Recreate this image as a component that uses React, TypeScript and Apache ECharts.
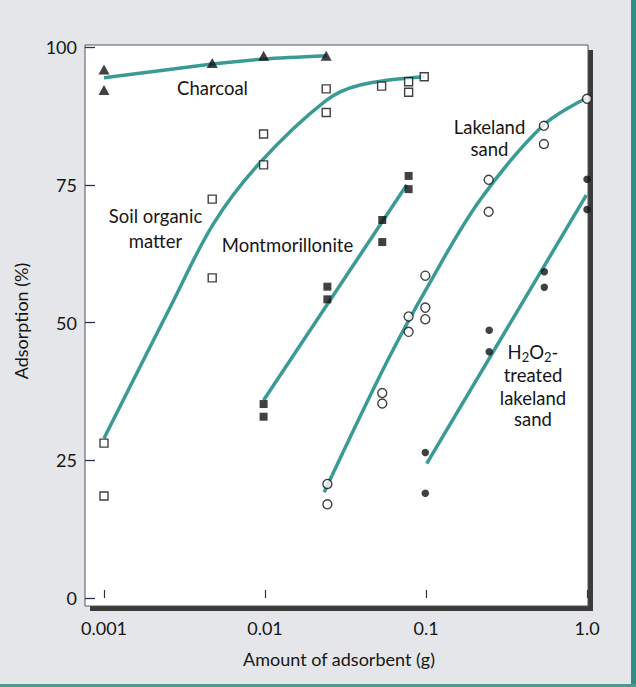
import React, { useEffect, useRef } from "react";
import * as echarts from "echarts";

// ---- tick labels ----
const xTickLabels = ["0.001", "0.01", "0.1", "1.0"];
const yTickLabels = ["0", "25", "50", "75", "100"];

// ---- measured points ----
const charcoalX = [0.001, 0.001, 0.0047, 0.0098, 0.024];
const charcoalY = [95.9, 92.2, 97.1, 98.4, 98.4];

const soilX = [0.001, 0.001, 0.0047, 0.0047, 0.0098, 0.0098, 0.024, 0.024, 0.053, 0.078, 0.078, 0.0975];
const soilY = [28.1, 18.5, 72.4, 58.1, 84.2, 78.6, 92.4, 88.1, 92.9, 93.7, 91.8, 94.6];

const montX = [0.0098, 0.0098, 0.0244, 0.0244, 0.0535, 0.0535, 0.078, 0.078];
const montY = [35.2, 32.9, 56.5, 54.2, 68.6, 64.6, 76.6, 74.2];

const lakeX = [0.0244, 0.0244, 0.0535, 0.0535, 0.078, 0.078, 0.099, 0.099, 0.099, 0.245, 0.245, 0.54, 0.54, 1.0];
const lakeY = [20.7, 17.0, 37.2, 35.3, 51.1, 48.3, 58.5, 52.7, 50.6, 75.9, 70.1, 85.7, 82.4, 90.6];

const h2o2X = [0.099, 0.099, 0.247, 0.247, 0.543, 0.543, 1.0, 1.0];
const h2o2Y = [26.4, 19.0, 48.6, 44.7, 59.2, 56.4, 76.0, 70.5];

// ---- fitted curves ----
const charcoalFitX = [0.001, 0.0047, 0.0098, 0.024];
const charcoalFitY = [94.4, 96.9, 97.8, 98.4];

const soilFitX = [0.001, 0.0026, 0.0048, 0.0093, 0.024, 0.039, 0.0975];
const soilFitY = [29.0, 53.0, 68.0, 79.0, 90.3, 93.1, 94.6];

const montFitX = [0.0098, 0.076];
const montFitY = [35.9, 75.0];

const lakeFitX = [0.0233, 0.057, 0.106, 0.216, 0.535, 0.99];
const lakeFitY = [19.2, 42.8, 57.3, 72.2, 85.8, 90.7];

const h2o2FitX = [0.101, 0.99];
const h2o2FitY = [24.4, 73.1];

const zip = (xs: number[], ys: number[]) => xs.map((x, i) => [x, ys[i]]);

const TEAL = "#3a9b94";
const INK = "#161616";
const FONT = "Lato";

export default function App() {
  const ref = useRef<HTMLDivElement>(null);

  useEffect(() => {
    if (!ref.current) return;
    const chart = echarts.init(ref.current, undefined, { renderer: "svg" });

    const fitLine = (name: string, xs: number[], ys: number[], smooth: number) => ({
      name,
      type: "line",
      data: zip(xs, ys),
      smooth,
      symbol: "none",
      lineStyle: { color: TEAL, width: 3.5 },
      z: 3,
    });

    const scatter = (name: string, xs: number[], ys: number[], symbol: string, size: any, filled: boolean) => ({
      name,
      type: "scatter",
      data: zip(xs, ys),
      symbol,
      symbolSize: size,
      itemStyle: filled
        ? { color: "#111" }
        : { color: "#ffffff", borderColor: "#111", borderWidth: 1.4 },
      z: 5,
    });

    const txt = (x: number, y: number, text: string, size = 18.5) => ({
      type: "text",
      x,
      y,
      z: 50,
      style: {
        text,
        fill: INK,
        fontSize: size,
        fontFamily: FONT,
        align: "center",
        verticalAlign: "middle",
      },
    });

    chart.setOption({
      animation: false,
      backgroundColor: "#e4e6e9",
      grid: { left: 104, right: 49, top: 47, bottom: 89 },
      xAxis: {
        type: "log",
        logBase: 10,
        min: 0.001,
        max: 1,
        offset: 8,
        axisLine: { show: false },
        axisTick: { show: true, inside: true, length: 8, lineStyle: { color: "#333", width: 1.2 } },
        splitLine: { show: false },
        axisLabel: {
          margin: 13,
          fontSize: 18,
          fontFamily: FONT,
          color: INK,
          formatter: (v: number) => xTickLabels[Math.round(Math.log10(v)) + 3] ?? "",
        },
      },
      yAxis: {
        type: "value",
        min: 0,
        max: 100,
        interval: 25,
        offset: 19,
        axisLine: { show: false },
        axisTick: { show: true, inside: true, length: 10, lineStyle: { color: "#2a2f5c", width: 1.3 } },
        splitLine: { show: false },
        axisLabel: {
          margin: 8,
          fontSize: 18,
          fontFamily: FONT,
          color: INK,
          formatter: (v: number) => yTickLabels[Math.round(v / 25)] ?? "",
        },
      },
      graphic: [
        { type: "rect", z: -20, shape: { x: 631, y: 0, width: 5, height: 687 }, style: { fill: "#2e8e88" } },
        { type: "rect", z: -20, shape: { x: 0, y: 684, width: 636, height: 3 }, style: { fill: "#4f9a8e" } },
        { type: "rect", z: -10, shape: { x: 90, y: 50, width: 503, height: 561 }, style: { fill: "#3a3a3a" } },
        {
          type: "rect",
          z: -9,
          shape: { x: 85, y: 45, width: 503, height: 561 },
          style: { fill: "#ffffff", stroke: "#555", lineWidth: 1 },
        },
        txt(212.5, 88, "Charcoal"),
        txt(155.5, 216, "Soil organic"),
        txt(155.5, 241, "matter"),
        txt(287.5, 245, "Montmorillonite"),
        txt(489.5, 127, "Lakeland"),
        txt(489.5, 149, "sand"),
        {
          type: "text",
          x: 533,
          y: 352,
          z: 50,
          style: {
            text: "H{sub|2}O{sub|2}-",
            fill: INK,
            fontSize: 18.5,
            fontFamily: FONT,
            align: "center",
            verticalAlign: "middle",
            lineHeight: 22,
            rich: {
              sub: { fontSize: 13, fontFamily: FONT, fill: INK, verticalAlign: "bottom", lineHeight: 14 },
            },
          },
        },
        txt(533, 374.5, "treated"),
        txt(533, 397.5, "lakeland"),
        txt(533, 419, "sand"),
        txt(339, 659, "Amount of adsorbent (g)", 18),
        {
          type: "text",
          x: 21,
          y: 321,
          rotation: Math.PI / 2,
          z: 50,
          style: {
            text: "Adsorption (%)",
            fill: INK,
            fontSize: 18,
            fontFamily: FONT,
            align: "center",
            verticalAlign: "middle",
          },
        },
      ],
      series: [
        fitLine("Charcoal fit", charcoalFitX, charcoalFitY, 0.3),
        fitLine("Soil organic matter fit", soilFitX, soilFitY, 0.35),
        fitLine("Montmorillonite fit", montFitX, montFitY, 0),
        fitLine("Lakeland sand fit", lakeFitX, lakeFitY, 0.35),
        fitLine("H2O2-treated lakeland sand fit", h2o2FitX, h2o2FitY, 0),
        scatter("Charcoal", charcoalX, charcoalY, "triangle", [11, 10], true),
        scatter("Soil organic matter", soilX, soilY, "rect", 8, false),
        scatter("Montmorillonite", montX, montY, "rect", 8, true),
        scatter("Lakeland sand", lakeX, lakeY, "circle", 9, false),
        scatter("H2O2-treated lakeland sand", h2o2X, h2o2Y, "circle", 7.5, true),
      ],
    });

    return () => chart.dispose();
  }, []);

  return (
    <div
      ref={ref}
      style={{ position: "fixed", left: 0, top: 0, width: 636, height: 687 }}
    />
  );
}
